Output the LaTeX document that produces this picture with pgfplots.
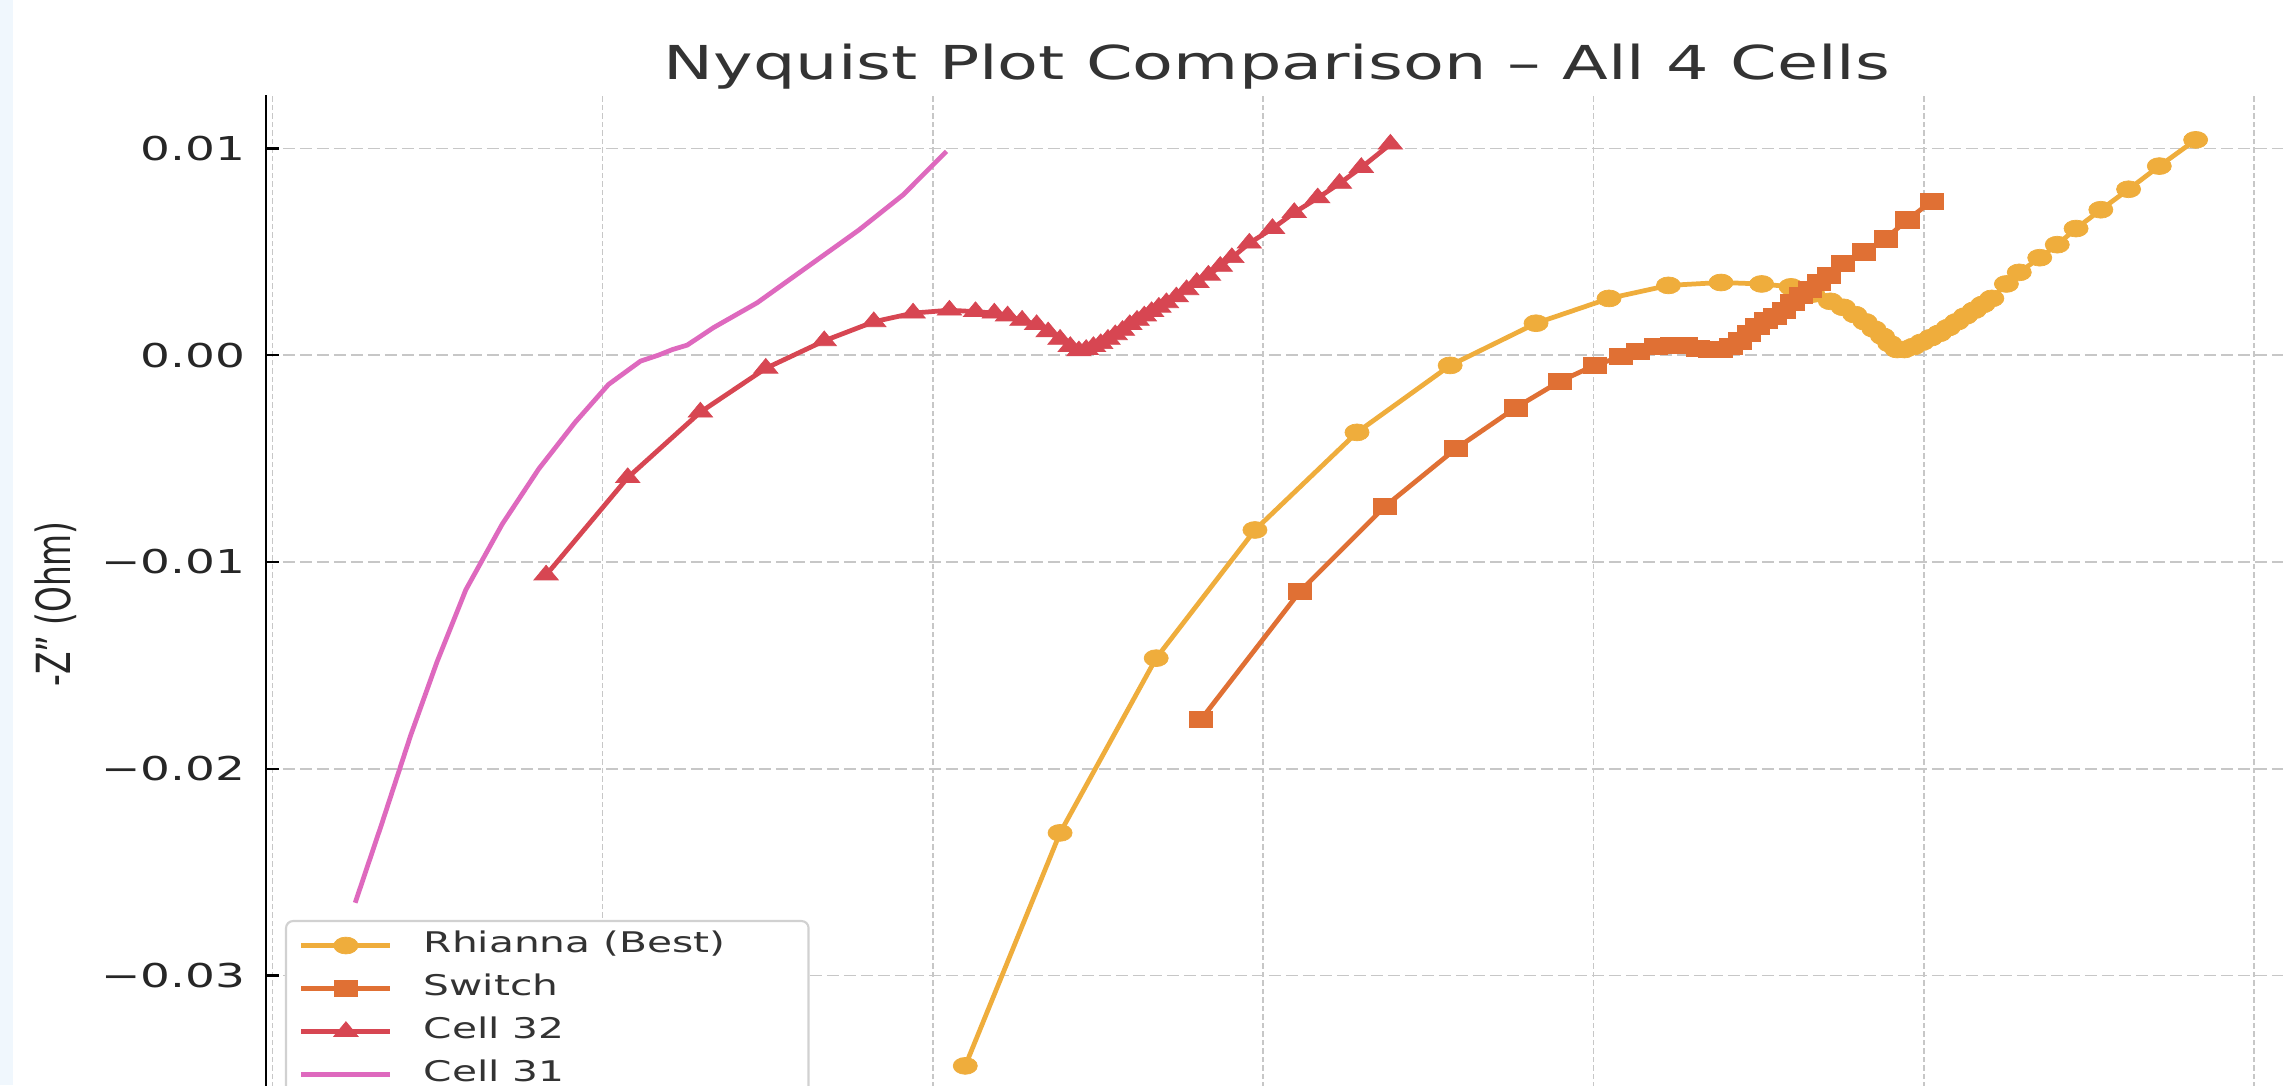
\documentclass[border=0pt]{standalone}
\usepackage{fontspec}
\setmainfont{DejaVu Sans}
\usepackage{graphicx}
\usepackage{pgfplots}
\pgfplotsset{compat=1.18}
\definecolor{cRh}{RGB}{239,173,60}
\definecolor{cSw}{RGB}{224,112,52}
\definecolor{cC32}{RGB}{215,70,82}
\definecolor{cC31}{RGB}{222,105,190}
\definecolor{cBand}{RGB}{240,247,253}
\begin{document}
\begin{tikzpicture}
\useasboundingbox (-2.66,0.28) rectangle (20.17,11.13);
\clip (-2.66,0.28) rectangle (20.17,11.13);
\fill[white] (-2.66,0.28) rectangle (20.17,11.13);
\fill[cBand] (-2.66,0.28) rectangle (-2.53,11.13);
\begin{axis}[
  at={(0,0)}, anchor=south west,
  scale only axis, width=20.22cm, height=10.18cm,
  xmin=0.019809, xmax=0.081026, ymin=-0.03665, ymax=0.01259,
  scaled x ticks=false, scaled y ticks=false,
  axis x line*=bottom, axis y line*=left,
  axis line style={black, line width=0.8pt, -},
  xtick={0.02,0.03,0.04,0.05,0.06,0.07,0.08}, xticklabels={},
  ytick={-0.03,-0.02,-0.01,0,0.01},
  yticklabels={−0.03,−0.02,−0.01,0.00,0.01},
  tick align=inside, major tick length=0.13cm,
  tick style={black, line width=0.6pt},
  yticklabel style={font=\fontsize{9.35}{11}\selectfont, text=black!85, xscale=1.43, xshift=-0.02cm},
  grid=major,
  x grid style={black!22, line width=0.45pt, dash pattern=on 0.055cm off 0.03cm},
  y grid style={black!22, line width=0.45pt, dash pattern=on 0.12cm off 0.05cm},
  every axis title shift=0pt,
  title={Nyquist Plot Comparison – All 4 Cells},
  title style={at={(axis description cs:0.5,1)}, anchor=base, yshift=0.15cm, font=\fontsize{13.3}{16}\selectfont, text=black!80, xscale=1.43},
  ylabel={-Z'' (Ohm)},
  ylabel style={at={(axis description cs:-0.10386,0.5)}, anchor=center, font=\fontsize{9.35}{11}\selectfont, text=black!85, yscale=1.43},
  legend image code/.code={\draw[mark repeat=2,mark phase=2,#1] plot coordinates {(0cm,0cm) (0.445cm,0cm) (0.89cm,0cm)};},
  legend style={at={(axis description cs:0.0094,0.1896)}, anchor=north west, draw=black!18, line width=0.6pt, rounded corners=2pt, fill=white, font=\fontsize{8.1}{9.7}\selectfont, text=black!80, inner xsep=0.13cm, inner ysep=0.03cm, column sep=0.31cm, nodes={inner xsep=0pt, inner ysep=0.08cm, text height=0.2cm, text depth=0.07cm}},
  legend cell align=left,
]
% Rhianna (Best)
\addplot[cRh, line width=1.35pt, mark=*, mark size=2.4pt, mark options={solid, fill=cRh, draw=cRh, line width=0.2pt, xscale=1.43}] coordinates {
(0.04098,-0.03437) (0.04385,-0.02310) (0.04676,-0.01465) (0.04975,-0.00845) (0.05284,-0.00373)
(0.05566,-0.00049) (0.05826,0.00155) (0.06047,0.00275) (0.06227,0.00338) (0.06386,0.00352)
(0.06509,0.00345) (0.06598,0.00331) (0.06664,0.00296) (0.06717,0.00261) (0.06756,0.00232)
(0.06791,0.00197) (0.06822,0.00162) (0.06849,0.00127) (0.06875,0.00092) (0.06897,0.00056)
(0.06919,0.00028) (0.06941,0.00028) (0.06968,0.00042) (0.06994,0.00063) (0.07021,0.00085)
(0.07047,0.00106) (0.07074,0.00134) (0.07100,0.00162) (0.07126,0.00190) (0.07153,0.00218)
(0.07179,0.00246) (0.07206,0.00275) (0.07250,0.00345) (0.07289,0.00401) (0.07351,0.00472)
(0.07404,0.00535) (0.07461,0.00613) (0.07536,0.00704) (0.07620,0.00803) (0.07713,0.00915)
(0.07823,0.01042)
};
\addlegendentry{\scalebox{1.43}[1]{Rhianna (Best)}\rule{0.7cm}{0pt}}
% Switch
\addplot[cSw, line width=1.35pt, mark=square*, mark size=2.3pt, mark options={solid, fill=cSw, draw=cSw, line width=0.2pt, xscale=1.43}] coordinates {
(0.04812,-0.01761) (0.05112,-0.01141) (0.05368,-0.00732) (0.05584,-0.00451) (0.05764,-0.00254)
(0.05897,-0.00127) (0.06003,-0.00049) (0.06082,-0.00007) (0.06135,0.00021) (0.06188,0.00042)
(0.06236,0.00049) (0.06280,0.00049) (0.06315,0.00035) (0.06351,0.00028) (0.06386,0.00028)
(0.06417,0.00042) (0.06443,0.00070) (0.06470,0.00106) (0.06496,0.00141) (0.06523,0.00169)
(0.06549,0.00190) (0.06575,0.00218) (0.06602,0.00254) (0.06628,0.00289) (0.06655,0.00317)
(0.06681,0.00352) (0.06712,0.00387) (0.06756,0.00444) (0.06818,0.00500) (0.06884,0.00563)
(0.06950,0.00655) (0.07025,0.00746)
};
\addlegendentry{\scalebox{1.43}[1]{Switch}}
% Cell 32
\addplot[cC32, line width=1.35pt, mark=triangle*, mark size=2.8pt, mark options={solid, fill=cC32, draw=cC32, line width=0.2pt, xscale=1.43}] coordinates {
(0.02829,-0.01063) (0.03076,-0.00592) (0.03296,-0.00275) (0.03494,-0.00063) (0.03671,0.00070)
(0.03821,0.00162) (0.03940,0.00204) (0.04050,0.00218) (0.04129,0.00211) (0.04186,0.00204)
(0.04226,0.00190) (0.04270,0.00169) (0.04314,0.00148) (0.04349,0.00113) (0.04385,0.00077)
(0.04416,0.00042) (0.04442,0.00021) (0.04464,0.00028) (0.04486,0.00042) (0.04508,0.00056)
(0.04530,0.00077) (0.04552,0.00099) (0.04574,0.00120) (0.04596,0.00148) (0.04618,0.00169)
(0.04640,0.00190) (0.04662,0.00211) (0.04684,0.00232) (0.04707,0.00254) (0.04737,0.00282)
(0.04768,0.00317) (0.04799,0.00352) (0.04834,0.00387) (0.04870,0.00430) (0.04905,0.00472)
(0.04958,0.00542) (0.05028,0.00613) (0.05094,0.00690) (0.05165,0.00761) (0.05231,0.00831)
(0.05297,0.00908) (0.05385,0.01021)
};
\addlegendentry{\scalebox{1.43}[1]{Cell 32}}
% Cell 31
\addplot[cC31, line width=1.35pt, no markers] coordinates {
(0.02251,-0.02648) (0.02331,-0.02268) (0.02419,-0.01838) (0.02498,-0.01486) (0.02586,-0.01134)
(0.02696,-0.00817) (0.02807,-0.00549) (0.02917,-0.00324) (0.03018,-0.00141) (0.03115,-0.00028)
(0.03168,0.00000) (0.03212,0.00028) (0.03256,0.00049) (0.03336,0.00134) (0.03468,0.00254)
(0.03622,0.00430) (0.03776,0.00606) (0.03909,0.00775) (0.04041,0.00986)
};
\addlegendentry{\scalebox{1.43}[1]{Cell 31}}
\end{axis}
\end{tikzpicture}
\end{document}
